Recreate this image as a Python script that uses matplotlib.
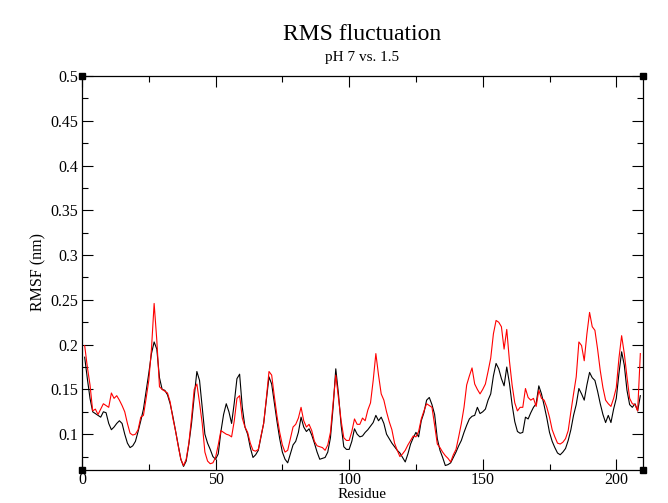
import matplotlib
matplotlib.use("Agg")
import matplotlib.pyplot as plt
from matplotlib.ticker import MultipleLocator, FuncFormatter

residues = list(range(1, 210))

rmsf_black = [
    0.186, 0.162, 0.140, 0.125, 0.123, 0.121, 0.119, 0.125, 0.124, 0.112,
    0.105, 0.108, 0.112, 0.115, 0.112, 0.100, 0.090, 0.085, 0.087, 0.092,
    0.103, 0.115, 0.128, 0.148, 0.168, 0.190, 0.203, 0.195, 0.163, 0.150,
    0.149, 0.144, 0.134, 0.120, 0.104, 0.088, 0.072, 0.064, 0.070, 0.089,
    0.112, 0.142, 0.170, 0.160, 0.130, 0.100, 0.090, 0.083, 0.075, 0.072,
    0.078, 0.103, 0.122, 0.134, 0.125, 0.112, 0.135, 0.162, 0.167, 0.130,
    0.108, 0.100, 0.085, 0.074, 0.077, 0.082, 0.097, 0.112, 0.138, 0.164,
    0.156, 0.135, 0.114, 0.095, 0.080, 0.072, 0.068, 0.078, 0.088, 0.092,
    0.102, 0.119, 0.108, 0.103, 0.106, 0.099, 0.090, 0.080, 0.072, 0.073,
    0.074, 0.080, 0.096, 0.130, 0.173, 0.145, 0.110, 0.086, 0.083, 0.083,
    0.092, 0.106, 0.100, 0.097, 0.098, 0.102, 0.105, 0.109, 0.113, 0.121,
    0.115, 0.119, 0.112, 0.100, 0.095, 0.090, 0.086, 0.082, 0.079, 0.074,
    0.069, 0.078, 0.089, 0.096, 0.102, 0.097, 0.115, 0.124, 0.138, 0.141,
    0.133, 0.122, 0.095, 0.082, 0.074, 0.065, 0.066, 0.068, 0.074, 0.080,
    0.087, 0.093, 0.102, 0.110, 0.117, 0.120, 0.121, 0.130, 0.123, 0.125,
    0.128, 0.138, 0.145, 0.165, 0.179, 0.173, 0.162, 0.154, 0.175, 0.157,
    0.133, 0.114, 0.103, 0.101, 0.102, 0.119, 0.117, 0.124, 0.130, 0.134,
    0.154, 0.145, 0.132, 0.118, 0.102, 0.092, 0.085, 0.079, 0.077, 0.080,
    0.084, 0.093, 0.105, 0.121, 0.133, 0.151, 0.145, 0.138, 0.155, 0.169,
    0.163, 0.160, 0.148, 0.134, 0.122, 0.113, 0.121, 0.113, 0.128, 0.140,
    0.168, 0.192, 0.177, 0.149, 0.133, 0.130, 0.134, 0.126, 0.143,
]

rmsf_red = [
    0.199, 0.175, 0.155, 0.126, 0.128, 0.122, 0.128, 0.134, 0.132, 0.130,
    0.146, 0.140, 0.143, 0.138, 0.132, 0.125, 0.112, 0.101, 0.099, 0.100,
    0.105, 0.119, 0.121, 0.140, 0.160, 0.195, 0.246, 0.205, 0.153, 0.150,
    0.148, 0.146, 0.136, 0.118, 0.104, 0.087, 0.072, 0.065, 0.072, 0.090,
    0.118, 0.150, 0.156, 0.135, 0.112, 0.080, 0.070, 0.067, 0.068, 0.074,
    0.088, 0.104, 0.102, 0.100, 0.099, 0.097, 0.115, 0.140, 0.143, 0.118,
    0.108, 0.102, 0.090, 0.082, 0.081, 0.083, 0.098, 0.112, 0.140, 0.170,
    0.166, 0.142, 0.120, 0.102, 0.088, 0.080, 0.082, 0.095, 0.108, 0.111,
    0.118, 0.130, 0.115, 0.108, 0.111, 0.104, 0.092, 0.087, 0.086, 0.085,
    0.082, 0.088, 0.102, 0.135, 0.166, 0.140, 0.115, 0.096, 0.093, 0.093,
    0.103, 0.117, 0.111, 0.111, 0.118, 0.115, 0.127, 0.135, 0.160, 0.190,
    0.166, 0.145, 0.138, 0.125, 0.114, 0.105, 0.090, 0.082, 0.075, 0.078,
    0.082, 0.088, 0.093, 0.098, 0.097, 0.103, 0.117, 0.126, 0.134, 0.132,
    0.130, 0.110, 0.089, 0.085, 0.080, 0.076, 0.073, 0.069, 0.077, 0.083,
    0.097, 0.112, 0.130, 0.155, 0.165, 0.174, 0.156, 0.150, 0.145, 0.150,
    0.156, 0.170, 0.185, 0.212, 0.227, 0.225, 0.220, 0.195, 0.217, 0.182,
    0.155, 0.135, 0.126, 0.130, 0.130, 0.151, 0.141, 0.138, 0.140, 0.131,
    0.149, 0.140, 0.138, 0.130, 0.119, 0.105, 0.097, 0.090, 0.089, 0.091,
    0.095, 0.104, 0.125, 0.145, 0.164, 0.203, 0.199, 0.182, 0.212, 0.236,
    0.220, 0.216, 0.195, 0.171, 0.152, 0.138, 0.134, 0.131, 0.140, 0.152,
    0.185, 0.210, 0.190, 0.164, 0.140, 0.134, 0.133, 0.126, 0.190,
]

title = "RMS fluctuation"
subtitle = "pH 7 vs. 1.5"
xlabel = "Residue"
ylabel = "RMSF (nm)"

plt.rcParams['font.family'] = ['Liberation Serif', 'DejaVu Serif']

fig = plt.figure(figsize=(6.68, 5.03), dpi=100)
ax = fig.add_axes([82/668, 1 - 470/503, (643-82)/668, (470-76)/503])

ax.plot(residues, rmsf_black, color='black', lw=0.8)
ax.plot(residues, rmsf_red, color='#ff0000', lw=0.8)

ax.set_xlim(0, 210)
ax.set_ylim(0.06, 0.5)
ax.xaxis.set_major_locator(MultipleLocator(50))
ax.xaxis.set_minor_locator(MultipleLocator(25))
ax.yaxis.set_major_locator(MultipleLocator(0.05))
ax.yaxis.set_minor_locator(MultipleLocator(0.025))
ax.yaxis.set_major_formatter(FuncFormatter(lambda v, p: ("%g" % round(v, 3)) if v >= 0.099 else ""))

ax.tick_params(which='both', direction='in', top=True, right=True, colors='black',
               labelsize=11.5, width=0.8)
ax.tick_params(which='major', length=8, pad=3)
ax.tick_params(axis='x', which='major', pad=1.5)
ax.tick_params(which='minor', length=4.5)
for s in ax.spines.values():
    s.set_linewidth(0.9)

# corner markers
ax.plot([0, 1, 0, 1], [0, 0, 1, 1], 's', color='black', ms=4.5,
        transform=ax.transAxes, clip_on=False)

fig.text((82+643)/2/668, 1 - 35/503, title, ha='center', va='center', fontsize=17)
fig.text((82+643)/2/668, 1 - 57/503, subtitle, ha='center', va='center', fontsize=11)
fig.text((82+643)/2/668, 1.5/503, xlabel, ha='center', va='bottom', fontsize=11)
fig.text(38/668, 1 - 272/503, ylabel, ha='center', va='center', rotation=90, fontsize=11.5)

fig.savefig("out.png", dpi=100)
